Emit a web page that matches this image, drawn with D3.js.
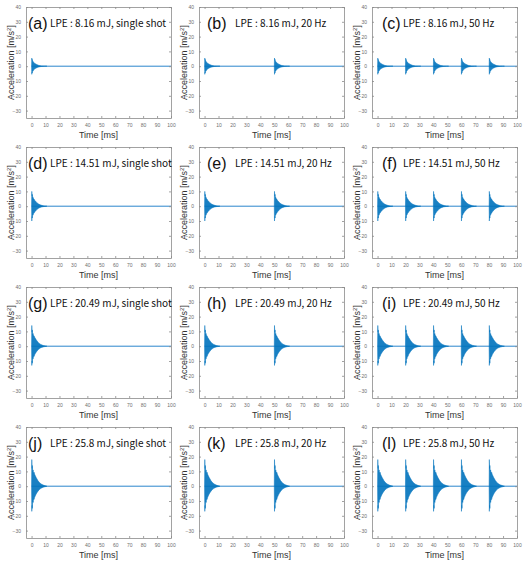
<!DOCTYPE html>
<html><head><meta charset="utf-8">
<script src="https://cdn.jsdelivr.net/npm/d3@7/dist/d3.min.js"></script>
<style>body{margin:0;background:#fff}svg{display:block}</style>
</head><body><svg id="c" width="530" height="562"></svg>
<script>
// ---- data ----
const panelLetters = ["a","b","c","d","e","f","g","h","i","j","k","l"];
const energies = ["8.16","14.51","20.49","25.8"];
const modes = ["single shot","20 Hz","50 Hz"];
const burstStarts = [[0],[0,50],[0,20,40,60,80]];
const xTicks = [0,10,20,30,40,50,60,70,80,90,100];
const yTicks = [-30,-20,-10,0,10,20,30,40];
const xDomain = [-4,100];
const yDomain = [-35,40];
const signalSpan = [0,100];
// envelope sample times within one burst (ms after the shot)
const envTimes = [0,0.15,0.35,0.55,0.8,1.1,1.4,1.8,2.2,2.7,3.2,3.8,4.5,5.3,6.2,7.2,8.3,9.5,11];
// upper / lower envelope of each burst, per pulse energy (m/s^2)
const envUpper = [
  [0,5.5,4,4.5,3.3,3.2,2.6,2.4,2,1.7,1.4,1.1,0.8,0.5,0.35,0.2,0.1,0.05,0],
  [0,10,7,8,6,6,5,4.8,4,3.5,3,2.4,1.8,1.3,0.9,0.6,0.3,0.15,0],
  [0,14,9.5,11,8,8.5,7,7,6,5.3,4.5,3.7,2.8,2,1.4,0.9,0.5,0.25,0],
  [0,18,12,14,10,11,9,9.5,8,7,6,5,3.8,2.8,2,1.3,0.8,0.4,0]
];
const envLower = [
  [0,-5.5,-4,-4.5,-3.3,-3.2,-2.6,-2.3,-1.9,-1.6,-1.3,-1,-0.7,-0.5,-0.3,-0.2,-0.1,-0.05,0],
  [0,-10,-7,-8,-6,-6,-5,-4.7,-4,-3.4,-2.9,-2.3,-1.7,-1.2,-0.8,-0.5,-0.3,-0.15,0],
  [0,-13,-10,-11.5,-8,-8.5,-7,-7,-5.8,-5,-4.2,-3.4,-2.6,-1.9,-1.3,-0.8,-0.5,-0.25,0],
  [0,-17,-13,-15,-10,-11,-9,-9,-7.5,-6.5,-5.5,-4.5,-3.5,-2.5,-1.8,-1.2,-0.7,-0.4,0]
];

// ---- layout ----
const colLeft = [26,199,372], rowTop = [7,147,287,427];
const W = 145, H = 111;
const letterDx = [2,8,10], textDx = [24,36,31];
const blue = "#0072BD";
const svg = d3.select("#c");
const axisColor = "#8a8a8a", tickText = "#6e6e6e";

energies.forEach((en, r) => {
  modes.forEach((md, c) => {
    const g = svg.append("g").attr("transform", `translate(${colLeft[c]},${rowTop[r]})`);
    const x = d3.scaleLinear().domain(xDomain).range([0, W]);
    const y = d3.scaleLinear().domain(yDomain).range([H, 0]);

    // signal: baseline + bursts
    g.append("line").attr("x1", x(signalSpan[0])).attr("x2", x(signalSpan[1]))
      .attr("y1", y(0)).attr("y2", y(0)).attr("stroke", "#2a86cc").attr("stroke-width", 1);
    const area = d3.area().x(d => x(d.t)).y0(d => y(d.lo)).y1(d => y(d.hi));
    burstStarts[c].forEach(t0 => {
      const pts = envTimes.map((t, i) => ({t: t0 + t, hi: envUpper[r][i], lo: envLower[r][i]}));
      g.append("path").datum(pts).attr("d", area)
        .attr("fill", blue).attr("fill-opacity", 0.9)
        .attr("stroke", blue).attr("stroke-width", 0.5);
    });

    // box axes
    const ax = (axis, tr) => {
      const a = g.append("g").attr("transform", tr).call(axis);
      a.selectAll("path,line").attr("stroke", axisColor).attr("stroke-width", 0.8);
      a.selectAll("text").attr("fill", tickText).attr("font-size", 5)
        .attr("font-family", "Liberation Sans, Arial, sans-serif");
      return a;
    };
    ax(d3.axisBottom(x).tickValues(xTicks).tickSize(-2).tickPadding(5).tickSizeOuter(0), `translate(0,${H})`);
    ax(d3.axisTop(x).tickValues(xTicks).tickSize(-2).tickFormat("").tickSizeOuter(0), `translate(0,0)`);
    ax(d3.axisLeft(y).tickValues(yTicks).tickSize(-2).tickPadding(5).tickSizeOuter(0), `translate(0,0)`);
    ax(d3.axisRight(y).tickValues(yTicks).tickSize(-2).tickFormat("").tickSizeOuter(0), `translate(${W},0)`);

    // axis titles
    g.append("text").attr("x", W/2).attr("y", H + 20).attr("text-anchor", "middle")
      .attr("font-size", 9).attr("fill", "#333").attr("font-family", "Liberation Sans, Arial, sans-serif")
      .text("Time [ms]");
    const yl = g.append("text").attr("transform", `translate(-12,${H/2}) rotate(-90)`)
      .attr("text-anchor", "middle").attr("font-size", 9).attr("fill", "#333")
      .attr("font-family", "Liberation Sans, Arial, sans-serif");
    yl.append("tspan").text("Acceleration [m/s");
    yl.append("tspan").attr("dy", -3).attr("font-size", 6).text("2");
    yl.append("tspan").attr("dy", 3).text("]");

    // panel annotation
    g.append("text").attr("x", letterDx[c]).attr("y", 22).attr("font-size", 16).attr("fill", "#111")
      .attr("font-family", "Liberation Sans, Arial, sans-serif")
      .text(`(${panelLetters[r*3 + c]})`);
    g.append("text").attr("x", textDx[c]).attr("y", 20).attr("font-size", 10).attr("fill", "#111")
      .attr("font-family", "Noto Sans CJK KR, Noto Sans, sans-serif")
      .text(`LPE : ${en} mJ, ${md}`);
  });
});
</script></body></html>
